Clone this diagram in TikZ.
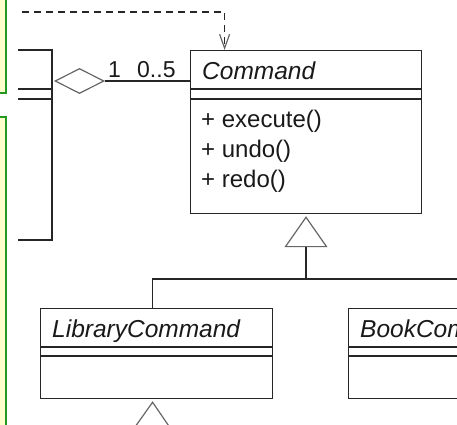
\documentclass[tikz,border=0pt]{standalone}
\usepackage{fontspec}
\setmainfont{Liberation Sans}
\usepackage{tikz}
\usetikzlibrary{arrows.meta,shapes.geometric}
\definecolor{notefill}{HTML}{FFFFCC}
\definecolor{noteline}{HTML}{229922}
\colorlet{umlline}{black!85}
\colorlet{umlgray}{black!60}

\begin{document}
\begin{tikzpicture}[x=1pt,y=-1pt,
  every node/.style={font=\fontsize{24}{29}\selectfont, text=black!90},
  note/.style={draw=noteline, fill=notefill, line width=2pt},
  umlclass/.style={draw=umlline, line width=1.2pt, rectangle, inner sep=0pt, anchor=north west},
  classname/.style={anchor=base west, inner sep=0pt, font=\fontsize{24.5}{29}\selectfont\itshape},
  member/.style={anchor=base west, inner sep=0pt},
  mult/.style={member, font=\fontsize{23}{28}\selectfont},
  umledge/.style={draw=umlline, line width=1.2pt},
  inherit/.style={umledge, shorten >=2pt, -{Triangle[open, length=31pt, width=43pt, color=umlgray]}},
]
\useasboundingbox (0,0) rectangle (457,424);

% notes on the left
\path[note] (-10,-10) rectangle (6,93);
\path[note] (-10,117) rectangle (6,440);

% client class, cut off
\draw[umledge] (18,50) -- (52,50) -- (52,240) -- (18,240);
\foreach \y in {89,99}
  \draw[umledge] (18,\y) -- (52,\y);

% Command
\node[umlclass, minimum width=231pt, minimum height=163pt] (cmd) at (190,50) {};
\node[classname] (cmdname) at (202,79) {Command};
\foreach \y in {89,99}
  \draw[umledge] (190,\y) -- (421,\y);
\foreach \m/\y in {execute/127,undo/157,redo/187}
  \node[member] (\m) at (201,\y) {+ \m()};

% subclasses
\node[umlclass, minimum width=232pt, minimum height=90pt] (lib) at (40,308) {};
\node[classname] (libname) at (52,337) {LibraryCommand};
\node[umlclass, minimum width=232pt, minimum height=90pt] (book) at (348,308) {};
\node[classname] (bookname) at (360,337) {BookCommand};
\foreach \x in {40,348}
  \foreach \y in {347,356}
    \draw[umledge] (\x,\y) -- ++(232,0);

% aggregation
\node[diamond, draw=umlgray, line width=1.2pt, minimum width=49pt, minimum height=25pt, inner sep=0pt] (agg) at (79.5,81) {};
\draw[umledge] (agg.east) -- (cmd.west |- agg.east);
\node[mult] (one) at (108,77) {1};
\node[mult] (many) at (137,77) {0..5};

% dependency
\coordinate (depstart) at (22,12);
\draw[umledge, dash pattern=on 7pt off 5pt, -{Straight Barb[length=14pt, width=10pt, color=umlgray]}]
  (depstart) -| ([xshift=-81.5pt]cmd.north);

% generalisation
\coordinate (bus) at (306,279);
\draw[inherit] ([xshift=-4pt]lib.north) |- (bus) -- (bus |- cmd.south);
\draw[umledge] (book.north) |- (bus);
\coordinate (sub) at (152,470);
\draw[inherit] (sub) -- ([xshift=-4pt]lib.south);
\end{tikzpicture}
\end{document}
